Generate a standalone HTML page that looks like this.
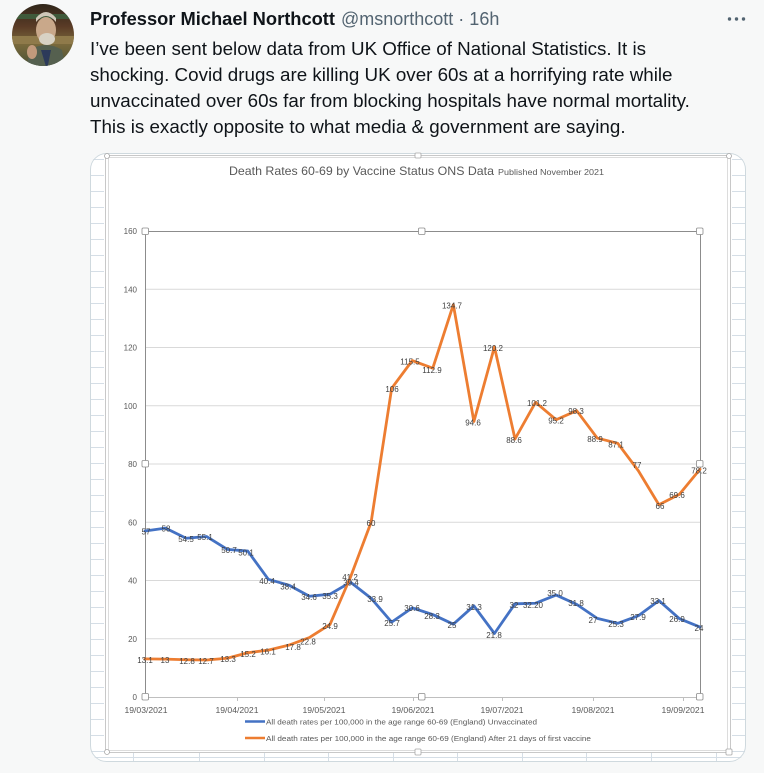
<!DOCTYPE html>
<html><head><meta charset="utf-8"><style>
html,body{margin:0;padding:0;background:#f7f8f8;}
svg{display:block;}
</style></head><body>
<svg width="764" height="773" viewBox="0 0 764 773" xmlns="http://www.w3.org/2000/svg">
<defs>
<clipPath id="av"><circle cx="43" cy="35" r="31"/></clipPath>
<clipPath id="card"><rect x="90" y="153" width="656" height="609" rx="16" ry="16"/></clipPath>
<linearGradient id="avbg" x1="0" y1="0" x2="0" y2="1">
<stop offset="0" stop-color="#2b2418"/><stop offset="0.35" stop-color="#5a3b26"/><stop offset="0.6" stop-color="#7a6a3c"/><stop offset="1" stop-color="#3c4a34"/>
</linearGradient>
</defs>
<rect width="764" height="773" fill="#f7f8f8"/>

<!-- avatar -->
<g clip-path="url(#av)">
<rect x="10" y="2" width="70" height="70" fill="url(#avbg)"/>
<rect x="10" y="14" width="70" height="5" fill="#3f5a3a"/>
<rect x="10" y="36" width="70" height="8" fill="#8f7a4a"/>
<ellipse cx="46" cy="30" rx="10" ry="13" fill="#c9a88a"/>
<path d="M36 22 Q46 10 56 22 L56 18 Q46 6 36 18Z" fill="#cfc8b8"/>
<ellipse cx="47" cy="39" rx="8" ry="6" fill="#d8d2c4"/>
<path d="M26 70 L30 50 Q46 40 62 50 L66 70Z" fill="#55604f"/>
<path d="M41 50 L47 70 L51 50Z" fill="#2c3a5a"/>
<ellipse cx="32" cy="52" rx="5" ry="7" fill="#c29a7c"/>
</g>

<!-- tweet header -->
<text x="90" y="25" font-family="Liberation Sans, Arial, sans-serif" font-size="18" font-weight="bold" fill="#0f1419" textLength="245" lengthAdjust="spacingAndGlyphs">Professor Michael Northcott</text>
<text x="341" y="25" font-family="Liberation Sans, Arial, sans-serif" font-size="18" fill="#536471">@msnorthcott · 16h</text>
<circle cx="729.5" cy="19" r="1.7" fill="#536471"/>
<circle cx="736.5" cy="19" r="1.7" fill="#536471"/>
<circle cx="743.5" cy="19" r="1.7" fill="#536471"/>

<g font-family="Liberation Sans, Arial, sans-serif" font-size="18.8" fill="#0f1419">
<text x="90" y="55">I’ve been sent below data from UK Office of National Statistics. It is</text>
<text x="90" y="81">shocking. Covid drugs are killing UK over 60s at a horrifying rate while</text>
<text x="90" y="107">unvaccinated over 60s far from blocking hospitals have normal mortality.</text>
<text x="90" y="133">This is exactly opposite to what media &amp; government are saying.</text>
</g>

<!-- card -->
<g clip-path="url(#card)">
<rect x="90" y="153" width="656" height="609" fill="#ffffff"/>
<g stroke="#d5dee6" stroke-width="1">
<path d="M90 159.5H104 M90 175.5H104 M90 191.5H104 M90 207.5H104 M90 223.5H104 M90 239.5H104 M90 255.5H104 M90 271.5H104 M90 287.5H104 M90 303.5H104 M90 319.5H104 M90 335.5H104 M90 351.5H104 M90 367.5H104 M90 383.5H104 M90 399.5H104 M90 415.5H104 M90 431.5H104 M90 447.5H104 M90 463.5H104 M90 479.5H104 M90 495.5H104 M90 511.5H104 M90 527.5H104 M90 543.5H104 M90 559.5H104 M90 575.5H104 M90 591.5H104 M90 607.5H104 M90 623.5H104 M90 639.5H104 M90 655.5H104 M90 671.5H104 M90 687.5H104 M90 703.5H104 M90 719.5H104 M90 735.5H104 M90 751.5H104"/>
<path d="M732 159.5H746 M732 175.5H746 M732 191.5H746 M732 207.5H746 M732 223.5H746 M732 239.5H746 M732 255.5H746 M732 271.5H746 M732 287.5H746 M732 303.5H746 M732 319.5H746 M732 335.5H746 M732 351.5H746 M732 367.5H746 M732 383.5H746 M732 399.5H746 M732 415.5H746 M732 431.5H746 M732 447.5H746 M732 463.5H746 M732 479.5H746 M732 495.5H746 M732 511.5H746 M732 527.5H746 M732 543.5H746 M732 559.5H746 M732 575.5H746 M732 591.5H746 M732 607.5H746 M732 623.5H746 M732 639.5H746 M732 655.5H746 M732 671.5H746 M732 687.5H746 M732 703.5H746 M732 719.5H746 M732 735.5H746 M732 751.5H746"/>
<path d="M133.5 753V762 M199.5 753V762 M264.5 753V762 M328.5 753V762 M393.5 753V762 M457.5 753V762 M522.5 753V762 M586.5 753V762 M651.5 753V762 M716.5 753V762 M90 757.5H746"/>
</g>
<rect x="105.5" y="155.5" width="625" height="597" fill="#ffffff" stroke="#c8c8c8" stroke-width="1"/>
<rect x="108.5" y="157.5" width="619" height="593" fill="none" stroke="#dcdcdc" stroke-width="1"/>
</g>
<rect x="90.5" y="153.5" width="655" height="608" rx="16" ry="16" fill="none" stroke="#cfd9de" stroke-width="1"/>

<g fill="#ffffff" stroke="#a8a8a8" stroke-width="0.8">
<circle cx="107" cy="156" r="2.5"/><rect x="415" y="153" width="6" height="5" rx="1"/><circle cx="729" cy="156" r="2.5"/>
<circle cx="107" cy="752" r="2.5"/><rect x="415" y="749" width="6" height="6" rx="1"/><rect x="726" y="749" width="6" height="6" rx="1"/>
</g>

<!-- chart title -->
<text x="229" y="175" font-family="Liberation Sans, Arial, sans-serif" font-size="12" fill="#595959" textLength="265" lengthAdjust="spacingAndGlyphs">Death Rates 60-69  by Vaccine Status ONS Data</text>
<text x="498" y="175" font-family="Liberation Sans, Arial, sans-serif" font-size="8.2" fill="#595959" textLength="106" lengthAdjust="spacingAndGlyphs">Published November 2021</text>

<!-- gridlines -->
<g stroke="#d9d9d9" stroke-width="1">
<path d="M145 638.75H700 M145 580.5H700 M145 522.25H700 M145 464H700 M145 405.75H700 M145 347.5H700 M145 289.25H700"/>
</g>
<g stroke="#8c8c8c" stroke-width="1" fill="none">
<path d="M145 231.5H700 M145.5 231V697 M700.5 231V697"/>
</g>
<path d="M145 697.5H700" stroke="#bfbfbf" stroke-width="1"/>
<g stroke="#bfbfbf" stroke-width="1">
<path d="M237.5 697V701 M324.5 697V701 M413.5 697V701 M502.5 697V701 M593.5 697V701 M683.5 697V701"/>
</g>

<!-- y labels -->
<g font-family="Liberation Sans, Arial, sans-serif" font-size="8" fill="#595959" text-anchor="end">
<text x="137" y="234">160</text>
<text x="137" y="292.3">140</text>
<text x="137" y="350.5">120</text>
<text x="137" y="408.8">100</text>
<text x="137" y="467">80</text>
<text x="137" y="525.3">60</text>
<text x="137" y="583.5">40</text>
<text x="137" y="641.8">20</text>
<text x="137" y="700">0</text>
</g>

<!-- x labels -->
<g font-family="Liberation Sans, Arial, sans-serif" font-size="8.6" fill="#595959" text-anchor="middle">
<text x="146" y="713">19/03/2021</text>
<text x="237" y="713">19/04/2021</text>
<text x="324" y="713">19/05/2021</text>
<text x="413" y="713">19/06/2021</text>
<text x="502" y="713">19/07/2021</text>
<text x="593" y="713">19/08/2021</text>
<text x="683" y="713">19/09/2021</text>
</g>

<!-- series -->
<polyline fill="none" stroke="#4472c4" stroke-width="2.8" stroke-linejoin="round" stroke-linecap="round"
points="145,530.99 165.56,528.09 186.11,538.27 206.67,536.52 227.22,549.34 247.78,551.08 268.33,579.34 288.89,585.16 309.44,596.23 330,594.19 350.56,582.25 371.11,598.27 391.67,622.15 412.22,607.88 432.78,614.58 453.33,624.19 473.89,605.84 494.44,633.51 515,603.8 535.56,603.22 556.11,595.06 576.67,604.38 597.22,618.36 617.78,623.31 638.33,615.74 658.89,600.6 679.44,618.65 700,627.1"/>
<polyline fill="none" stroke="#ed7d31" stroke-width="2.8" stroke-linejoin="round" stroke-linecap="round"
points="145,658.85 165.56,659.14 186.11,659.72 206.67,660.01 227.22,658.26 247.78,652.73 268.33,650.11 288.89,645.16 309.44,637.5 330,624.48 350.56,577 371.11,522.25 391.67,388.28 412.22,360.61 432.78,368.17 453.33,304.68 473.89,421.47 494.44,346.92 515,438.95 535.56,402.27 556.11,419.73 576.67,410.7 597.22,438.08 617.78,443.32 638.33,470.74 658.89,504.78 679.44,494.29 700,469.24"/>

<!-- data labels -->
<g font-family="Liberation Sans, Arial, sans-serif" font-size="8" fill="#404040" text-anchor="middle">
<text x="146" y="534.5">57</text>
<text x="166" y="531.5">58</text>
<text x="186" y="542">54.5</text>
<text x="205" y="540">55.1</text>
<text x="229" y="553">50.7</text>
<text x="246" y="555.5">50.1</text>
<text x="267" y="584">40.4</text>
<text x="288" y="589.5">38.4</text>
<text x="309" y="600">34.6</text>
<text x="330" y="599">35.3</text>
<text x="351" y="585.5">39.4</text>
<text x="375" y="602">33.9</text>
<text x="392" y="626">25.7</text>
<text x="412" y="611">30.6</text>
<text x="432" y="619">28.3</text>
<text x="452" y="628">25</text>
<text x="474" y="610">31.3</text>
<text x="494" y="638">21.8</text>
<text x="514" y="608">32</text>
<text x="533" y="608">32.20</text>
<text x="555" y="596">35.0</text>
<text x="576" y="606">31.8</text>
<text x="593" y="623">27</text>
<text x="616" y="627">25.3</text>
<text x="638" y="620">27.9</text>
<text x="658" y="604">33.1</text>
<text x="677" y="622">26.9</text>
<text x="699" y="631">24</text>

<text x="145" y="663">13.1</text>
<text x="165" y="663">13</text>
<text x="187" y="664">12.8</text>
<text x="206" y="664">12.7</text>
<text x="228" y="662">13.3</text>
<text x="248" y="657">15.2</text>
<text x="268" y="654.5">16.1</text>
<text x="293" y="650">17.8</text>
<text x="308" y="644.5">22.8</text>
<text x="330" y="629">24.9</text>
<text x="350" y="580">41.2</text>
<text x="371" y="526">60</text>
<text x="392" y="392">106</text>
<text x="410" y="364.5">115.5</text>
<text x="432" y="373">112.9</text>
<text x="452" y="308.5">134.7</text>
<text x="473" y="425.5">94.6</text>
<text x="493" y="351">120.2</text>
<text x="514" y="443">88.6</text>
<text x="537" y="406">101.2</text>
<text x="556" y="423.5">95.2</text>
<text x="576" y="414">98.3</text>
<text x="595" y="442">88.9</text>
<text x="616" y="447.5">87.1</text>
<text x="637" y="468">77</text>
<text x="660" y="509">66</text>
<text x="677" y="498">69.6</text>
<text x="699" y="473.5">78.2</text>
</g>

<g fill="#ffffff" stroke="#8c8c8c" stroke-width="0.8">
<rect x="142" y="228" width="6.5" height="6.5" rx="1.2"/>
<rect x="418.5" y="228" width="6.5" height="6.5" rx="1.2"/>
<rect x="696.5" y="228" width="6.5" height="6.5" rx="1.2"/>
<rect x="142" y="460.5" width="6.5" height="6.5" rx="1.2"/>
<rect x="696.5" y="460.5" width="6.5" height="6.5" rx="1.2"/>
<rect x="142" y="693.5" width="6.5" height="6.5" rx="1.2"/>
<rect x="418.5" y="693.5" width="6.5" height="6.5" rx="1.2"/>
<rect x="696.5" y="693.5" width="6.5" height="6.5" rx="1.2"/>
</g>

<!-- legend -->
<path d="M245 721.5H265" stroke="#4472c4" stroke-width="2.5"/>
<path d="M245 738H265" stroke="#ed7d31" stroke-width="2.5"/>
<g font-family="Liberation Sans, Arial, sans-serif" font-size="7.6" fill="#595959">
<text x="266" y="724.3" textLength="271" lengthAdjust="spacingAndGlyphs">All death rates per 100,000 in the age range 60-69 (England) Unvaccinated</text>
<text x="266" y="740.8" textLength="325" lengthAdjust="spacingAndGlyphs">All death rates per 100,000 in the age range 60-69 (England) After 21 days of first vaccine</text>
</g>
</svg>
</body></html>
